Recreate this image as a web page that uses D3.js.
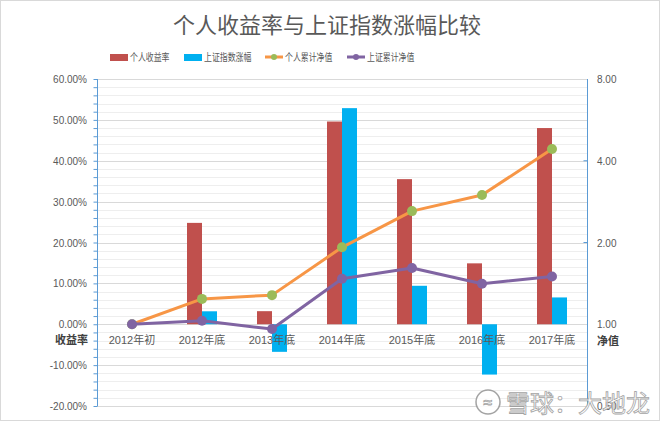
<!DOCTYPE html>
<html>
<head>
<meta charset="utf-8">
<script src="https://cdn.jsdelivr.net/npm/d3@7"></script>
<style>
  body { margin: 0; background: #fff; }
  svg { font-family: "Liberation Sans", "Noto Sans CJK SC", sans-serif; }
</style>
</head>
<body>
<div id="chart"></div>
<script>
    var width = 660,
        height = 421;

// data
    var categories = ["2012年初", "2012年底", "2013年底", "2014年底", "2015年底", "2016年底", "2017年底"];
    var personalReturn = [0, 24.8, 3.2, 49.6, 35.5, 14.9, 48.0];     // 个人收益率 %
    var indexReturn = [0, 3.17, -6.75, 52.87, 9.41, -12.31, 6.56];    // 上证指数涨幅 %
    var personalNav = [1.00, 1.24, 1.28, 1.92, 2.61, 2.99, 4.42];     // 个人累计净值
    var indexNav = [1.00, 1.03, 0.96, 1.47, 1.61, 1.41, 1.50];        // 上证累计净值
    var leftTicks = [60, 50, 40, 30, 20, 10, 0, -10, -20];
    var rightTicks = [8, 4, 2, 1, 0.5];

    var margin = {left: 97, right: 73, top: 79, bottom: 15};
    var plotW = width - margin.left - margin.right,
        plotH = 406 - margin.top;

    var svg = d3.select("#chart").append("svg")
        .attr("width", width)
        .attr("height", height);

    svg.append("rect")
        .attr("x", 0.5).attr("y", 0.5)
        .attr("width", width - 1).attr("height", height - 1)
        .attr("fill", "#fff").attr("stroke", "#d9d9d9");

    var x = d3.scaleBand().domain(categories).range([margin.left, margin.left + plotW]);
    var y = d3.scaleLinear().domain([-20, 60]).range([margin.top + plotH, margin.top]);
    var y2 = d3.scaleLog().base(2).domain([0.5, 8]).range([margin.top + plotH, margin.top]);

    // gridlines, minor every 2%, major every 10%
    var minor = d3.range(-20, 61, 2);
    svg.append("g").selectAll("line")
        .data(minor)
        .enter().append("line")
        .attr("x1", margin.left).attr("x2", margin.left + plotW)
        .attr("y1", function (d) { return Math.round(y(d)) + 0.5; })
        .attr("y2", function (d) { return Math.round(y(d)) + 0.5; })
        .attr("stroke", function (d) { return d % 10 === 0 ? "#d9d9d9" : "#eeeeee"; })
        .attr("stroke-width", 1);

    // left axis
    var yAxis = d3.axisLeft(y).tickValues(minor).tickSize(4).tickFormat("");
    var gl = svg.append("g")
        .attr("transform", "translate(" + (margin.left + 0.5) + ",0)")
        .call(yAxis);
    gl.selectAll("path, line").attr("stroke", "#5b9bd5");
    gl.select(".domain").attr("d", "M0," + y(-20) + "V" + y(60));

    svg.append("g").selectAll("text")
        .data(leftTicks)
        .enter().append("text")
        .attr("x", 87).attr("y", function (d) { return y(d) + 4; })
        .attr("text-anchor", "end")
        .style("font-size", "10px")
        .style("fill", "#595959")
        .text(function (d) { return d.toFixed(2) + "%"; });

    // right axis
    var y2Axis = d3.axisRight(y2).tickValues(rightTicks).tickSize(0).tickFormat("");
    var gr = svg.append("g")
        .attr("transform", "translate(" + (margin.left + plotW + 0.5) + ",0)")
        .call(y2Axis);
    gr.selectAll("path").attr("stroke", "#5b9bd5");
    gr.select(".domain").attr("d", "M0," + y2(0.5) + "V" + y2(8));
    gr.selectAll("line.t")
        .data([4, 2])
        .enter().append("line")
        .attr("x1", -4).attr("x2", 0)
        .attr("y1", function (d) { return y2(d); })
        .attr("y2", function (d) { return y2(d); })
        .attr("stroke", "#5b9bd5");

    svg.append("g").selectAll("text")
        .data(rightTicks)
        .enter().append("text")
        .attr("x", margin.left + plotW + 10).attr("y", function (d) { return y2(d) + 4; })
        .style("font-size", "10px")
        .style("fill", "#595959")
        .text(function (d) { return d.toFixed(2); });

    // axis titles
    svg.append("text")
        .attr("x", 88).attr("y", 344)
        .attr("text-anchor", "end")
        .style("font-size", "11px").style("font-weight", "bold")
        .style("fill", "#404040")
        .text("收益率");
    svg.append("text")
        .attr("x", margin.left + plotW + 10).attr("y", 345)
        .style("font-size", "11px").style("font-weight", "bold")
        .style("fill", "#404040")
        .text("净值");

    // bars
    var bw = 15;
    svg.append("g").selectAll("rect")
        .data(personalReturn)
        .enter().append("rect")
        .attr("x", function (d, i) { return x(categories[i]) + x.bandwidth() / 2 - bw; })
        .attr("y", function (d) { return y(Math.max(d, 0)); })
        .attr("width", bw)
        .attr("height", function (d) { return Math.abs(y(d) - y(0)); })
        .attr("fill", "#c0504d");
    svg.append("g").selectAll("rect")
        .data(indexReturn)
        .enter().append("rect")
        .attr("x", function (d, i) { return x(categories[i]) + x.bandwidth() / 2; })
        .attr("y", function (d) { return y(Math.max(d, 0)); })
        .attr("width", bw)
        .attr("height", function (d) { return Math.abs(y(d) - y(0)); })
        .attr("fill", "#00b0f0");

    // category labels
    svg.append("g").selectAll("text")
        .data(categories)
        .enter().append("text")
        .attr("x", function (d) { return x(d) + x.bandwidth() / 2; })
        .attr("y", 344)
        .attr("text-anchor", "middle")
        .style("font-size", "11px")
        .style("fill", "#595959")
        .text(function (d) { return d; });

    // lines
    var line = d3.line()
        .x(function (d, i) { return x(categories[i]) + x.bandwidth() / 2; })
        .y(function (d) { return y2(d); });

    function drawLine(vals, color, dotColor) {
        svg.append("path")
            .datum(vals)
            .attr("d", line)
            .attr("fill", "none")
            .attr("stroke", color)
            .attr("stroke-width", 3)
            .attr("stroke-linejoin", "round");
        svg.append("g").selectAll("circle")
            .data(vals)
            .enter().append("circle")
            .attr("cx", function (d, i) { return x(categories[i]) + x.bandwidth() / 2; })
            .attr("cy", function (d) { return y2(d); })
            .attr("r", 5)
            .attr("fill", dotColor);
    }
    drawLine(personalNav, "#f79646", "#9bbb59");
    drawLine(indexNav, "#8064a2", "#8064a2");

    // title
    svg.append("text")
        .attr("x", 327).attr("y", 33)
        .attr("text-anchor", "middle")
        .style("font-family", "Noto Sans CJK SC")
        .style("font-size", "22px")
        .style("fill", "#595959")
        .text("个人收益率与上证指数涨幅比较");

    // legend
    var legend = [
        {name: "个人收益率", type: "bar", color: "#c0504d", x: 110},
        {name: "上证指数涨幅", type: "bar", color: "#00b0f0", x: 184},
        {name: "个人累计净值", type: "line", color: "#f79646", dot: "#9bbb59", x: 265},
        {name: "上证累计净值", type: "line", color: "#8064a2", dot: "#8064a2", x: 347}
    ];
    var lg = svg.append("g").selectAll("g")
        .data(legend)
        .enter().append("g")
        .attr("transform", function (d) { return "translate(" + d.x + ",57)"; });
    lg.filter(function (d) { return d.type === "bar"; })
        .append("rect")
        .attr("x", 0).attr("y", -3).attr("width", 18).attr("height", 7)
        .attr("fill", function (d) { return d.color; });
    lg.filter(function (d) { return d.type === "line"; })
        .append("line")
        .attr("x1", 0).attr("x2", 18).attr("y1", 0).attr("y2", 0)
        .attr("stroke", function (d) { return d.color; })
        .attr("stroke-width", 3);
    lg.filter(function (d) { return d.type === "line"; })
        .append("circle")
        .attr("cx", 9).attr("cy", 0).attr("r", 3)
        .attr("fill", function (d) { return d.dot; });
    lg.append("text")
        .attr("x", 20).attr("y", 4)
        .attr("textLength", function (d) { return d.name.length * 7.9; })
        .attr("lengthAdjust", "spacingAndGlyphs")
        .style("font-family", "Noto Sans CJK SC")
        .style("font-size", "10.5px")
        .style("fill", "#595959")
        .text(function (d) { return d.name; });

    // watermark
    var wm = svg.append("g").attr("opacity", 0.9);
    wm.append("circle")
        .attr("cx", 488).attr("cy", 402).attr("r", 12)
        .attr("fill", "#fff").attr("stroke", "#9a9a9a").attr("stroke-width", 1.5);
    wm.append("text")
        .attr("x", 488).attr("y", 408)
        .attr("text-anchor", "middle")
        .style("font-size", "16px")
        .style("fill", "#fff").style("stroke", "#9a9a9a").style("stroke-width", 0.8)
        .text("≈");
    wm.append("text")
        .attr("x", 650).attr("y", 412)
        .attr("text-anchor", "end")
        .style("font-family", "Noto Sans CJK SC")
        .style("font-size", "24px")
        .style("fill", "#ffffff")
        .style("stroke", "#9a9a9a")
        .style("stroke-width", 0.8)
        .text("雪球：大地龙");
</script>
</body>
</html>
